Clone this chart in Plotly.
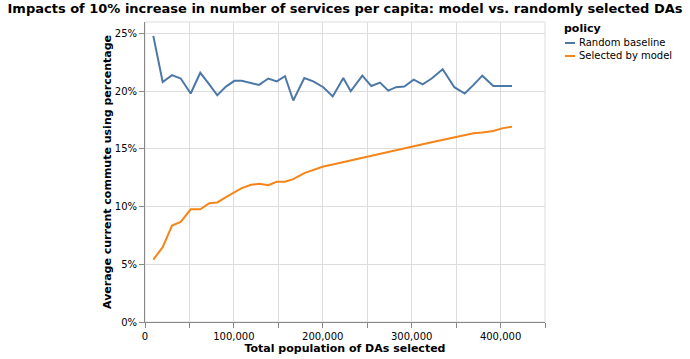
import plotly.graph_objects as go

population = [9340, 19900, 30400, 40200, 51400, 62200, 72300, 81300, 91100, 100500,
              108800, 119300, 128300, 138700, 148200, 157500, 166800, 179200, 189300, 200600,
              211200, 223100, 231400, 244500, 254600, 264400, 273700, 282400, 291700, 302300,
              312400, 322500, 334900, 348000, 359700, 369600, 379500, 391800, 401600, 412900]

random_baseline = [24.8, 20.8, 21.4, 21.1, 19.8, 21.6, 20.6, 19.65, 20.4, 20.9,
                   20.9, 20.7, 20.55, 21.1, 20.85, 21.3, 19.2, 21.15, 20.85, 20.35,
                   19.55, 21.15, 20.0, 21.35, 20.45, 20.75, 20.05, 20.35, 20.4, 21.0,
                   20.6, 21.1, 21.9, 20.35, 19.8, 20.55, 21.35, 20.45, 20.45, 20.45]

selected_by_model = [5.41, 6.48, 8.36, 8.68, 9.77, 9.77, 10.3, 10.36, 10.82, 11.25,
                     11.6, 11.89, 11.98, 11.86, 12.15, 12.15, 12.38, 12.9, 13.19, 13.48,
                     13.65, 13.85, 14.0, 14.2, 14.39, 14.57, 14.72, 14.83, 15.0, 15.2,
                     15.4, 15.58, 15.8, 16.0, 16.24, 16.35, 16.43, 16.56, 16.78, 16.93]

series_names = ["Random baseline", "Selected by model"]
series_colors = ["#4c78a8", "#f58518"]

x_tick_vals = [0, 50000, 100000, 150000, 200000, 250000, 300000, 350000, 400000, 450000]
x_tick_text = ["0", "", "100,000", "", "200,000", "", "300,000", "", "400,000", ""]
y_tick_vals = [0, 5, 10, 15, 20, 25]
y_tick_text = ["0%", "5%", "10%", "15%", "20%", "25%"]

FONT = "DejaVu Sans"

fig = go.Figure()
for name, vals, col in zip(series_names, [random_baseline, selected_by_model], series_colors):
    fig.add_trace(go.Scatter(x=population, y=vals, mode="lines", name=name,
                             showlegend=False, line=dict(color=col, width=2)))

# custom compact legend (vega-lite style)
annotations = [dict(text="<b>policy</b>", xref="paper", yref="paper",
                    x=(562 - 145) / 400, y=(322 - 28) / 300, xanchor="left", yanchor="middle",
                    showarrow=False, font=dict(family=FONT, size=11, color="#000"))]
shapes = [dict(type="rect", xref="paper", yref="paper", x0=0, x1=1, y0=0, y1=1,
               line=dict(color="#ddd", width=1), layer="below")]
for i, (name, col) in enumerate(zip(series_names, series_colors)):
    ypix = 43 + 13 * i
    yp = (322 - ypix) / 300
    shapes.append(dict(type="line", xref="paper", yref="paper",
                       x0=(565 - 145) / 400, x1=(575 - 145) / 400, y0=yp, y1=yp,
                       line=dict(color=col, width=2)))
    annotations.append(dict(text=name, xref="paper", yref="paper",
                            x=(577 - 145) / 400, y=yp, xanchor="left", yanchor="middle",
                            showarrow=False, font=dict(family=FONT, size=10, color="#000")))

fig.update_layout(
    width=690, height=359,
    margin=dict(l=145, r=145, t=22, b=37),
    paper_bgcolor="white", plot_bgcolor="white",
    font=dict(family=FONT, size=10, color="#000"),
    showlegend=False,
    title=dict(text="<b>Impacts of 10% increase in number of services per capita: model vs. randomly selected DAs</b>",
               x=0.5, xanchor="center", xref="container", y=1, yanchor="top", yref="container",
               pad=dict(t=4), font=dict(family=FONT, size=13, color="#000")),
    xaxis=dict(range=[0, 450000], tickvals=x_tick_vals, ticktext=x_tick_text,
               showgrid=True, gridcolor="#ddd", gridwidth=1,
               showline=True, linecolor="#888", linewidth=1,
               ticks="outside", ticklen=5, tickcolor="#888",
               zeroline=False, automargin=False,
               title=dict(text="<b>Total population of DAs selected</b>",
                          font=dict(family=FONT, size=11), standoff=3)),
    yaxis=dict(range=[0, 26], tickvals=y_tick_vals, ticktext=y_tick_text,
               showgrid=True, gridcolor="#ddd", gridwidth=1,
               showline=True, linecolor="#888", linewidth=1,
               ticks="outside", ticklen=5, tickcolor="#888",
               zeroline=False, automargin=False,
               title=dict(text="<b>Average current commute using percentage</b>",
                          font=dict(family=FONT, size=11), standoff=0)),
    annotations=annotations,
    shapes=shapes,
)

fig.write_html("out.html", config={"displayModeBar": False},
               post_script="document.body.style.margin='0';document.body.style.padding='0';")
